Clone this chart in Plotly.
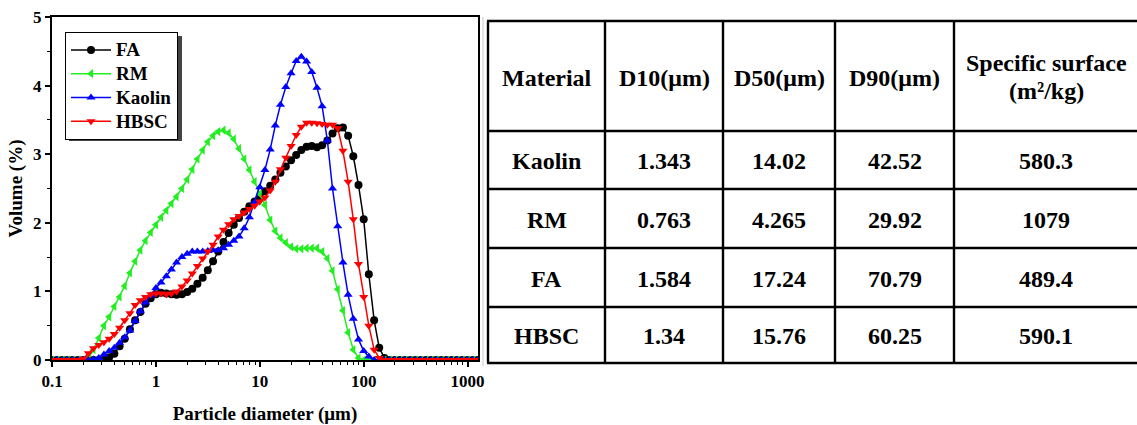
import plotly.graph_objects as go

# ---------------- data ----------------
diameters = [0.1, 0.112, 0.126, 0.141, 0.158, 0.178, 0.2, 0.224, 0.251, 0.282,
             0.316, 0.355, 0.398, 0.447, 0.501, 0.562, 0.631, 0.708, 0.794, 0.891,
             1, 1.12, 1.26, 1.41, 1.58, 1.78, 2, 2.24, 2.51, 2.82,
             3.16, 3.55, 3.98, 4.47, 5.01, 5.62, 6.31, 7.08, 7.94, 8.91,
             10, 11.2, 12.6, 14.1, 15.8, 17.8, 20, 22.4, 25.1, 28.2,
             31.6, 35.5, 39.8, 44.7, 50.1, 56.2, 63.1, 70.8, 79.4, 89.1,
             100, 112, 126, 141, 158, 178, 200, 224, 251, 282,
             316, 355, 398, 447, 501, 562, 631, 708, 794, 891,
             1000, 1122, 1259]

fa = [0, 0, 0, 0, 0, 0, 0, 0, 0, 0,
      0.01, 0.04, 0.09, 0.2, 0.31, 0.45, 0.58, 0.70, 0.82, 0.9,
      0.96, 0.98, 0.97, 0.96, 0.95, 0.96, 0.99, 1.04, 1.11, 1.2,
      1.31, 1.44, 1.58, 1.72, 1.85, 1.97, 2.07, 2.16, 2.24, 2.31,
      2.38, 2.46, 2.54, 2.63, 2.73, 2.82, 2.91, 2.99, 3.06, 3.11,
      3.12, 3.1, 3.13, 3.2, 3.3, 3.38, 3.39, 3.27, 2.97, 2.55,
      2.05, 1.25, 0.58, 0.18, 0.03, 0, 0, 0, 0, 0,
      0, 0, 0, 0, 0, 0, 0, 0, 0, 0,
      0, 0, 0]

rm = [0, 0, 0, 0, 0, 0, 0, 0.02, 0.15, 0.32,
      0.5, 0.63, 0.78, 0.92, 1.08, 1.27, 1.44, 1.6, 1.74, 1.86,
      1.97, 2.08, 2.18, 2.28, 2.38, 2.5, 2.63, 2.78, 2.93, 3.06,
      3.18, 3.27, 3.33, 3.35, 3.31, 3.22, 3.08, 2.93, 2.77, 2.6,
      2.42, 2.26, 2.04, 1.88, 1.78, 1.71, 1.65, 1.62, 1.62, 1.63,
      1.63, 1.63, 1.58, 1.48, 1.3, 1.03, 0.72, 0.4, 0.15, 0.03,
      0, 0, 0, 0, 0, 0, 0, 0, 0, 0,
      0, 0, 0, 0, 0, 0, 0, 0, 0, 0,
      0, 0, 0]

kaolin = [0, 0, 0, 0, 0, 0, 0, 0, 0.01, 0.03,
          0.08, 0.13, 0.18, 0.25, 0.33, 0.43, 0.57, 0.71, 0.84, 0.94,
          1.05, 1.13, 1.22, 1.32, 1.42, 1.5, 1.55, 1.58, 1.58, 1.58,
          1.59, 1.6, 1.6, 1.63, 1.68, 1.74, 1.8, 1.92, 2.08, 2.3,
          2.52, 2.77, 3.07, 3.42, 3.72, 3.98, 4.18, 4.36, 4.42, 4.35,
          4.2, 3.97, 3.7, 3.2, 2.5, 1.95, 1.42, 0.95, 0.6, 0.3,
          0.13, 0.05, 0, 0, 0, 0, 0, 0, 0, 0,
          0, 0, 0, 0, 0, 0, 0, 0, 0, 0,
          0, 0, 0]

hbsc = [0, 0, 0, 0, 0, 0, 0.02, 0.1, 0.17, 0.22,
        0.26, 0.31, 0.38, 0.47, 0.58, 0.68, 0.8, 0.87, 0.92, 0.96,
        0.97, 0.97, 0.96, 0.97, 1.0, 1.07, 1.16, 1.26, 1.37, 1.48,
        1.58, 1.68, 1.8, 1.9, 1.98, 2.05, 2.1, 2.15, 2.2, 2.25,
        2.31, 2.37, 2.47, 2.6, 2.78, 2.95, 3.12, 3.28, 3.4, 3.46,
        3.46, 3.45, 3.44, 3.43, 3.43, 3.38, 3.05, 2.6, 2.05, 1.4,
        0.92, 0.5, 0.15, 0.03, 0, 0, 0, 0, 0, 0,
        0, 0, 0, 0, 0, 0, 0, 0, 0, 0,
        0, 0, 0]

x_tickvals = [0.1, 1, 10, 100, 1000]
x_ticktext = ["0.1", "1", "10", "100", "1000"]

table_header = ["Material", "D10(μm)", "D50(μm)", "D90(μm)", ["Specific surface", "(m²/kg)"]]
materials = ["Kaolin", "RM", "FA", "HBSC"]
d10 = ["1.343", "0.763", "1.584", "1.34"]
d50 = ["14.02", "4.265", "17.24", "15.76"]
d90 = ["42.52", "29.92", "70.79", "60.25"]
specific_surface = ["580.3", "1079", "489.4", "590.1"]

# ---------------- figure ----------------
W, H = 1137, 425
FONT = "Liberation Serif"


def px(x):
    return x / W


def py(y):
    return 1 - y / H


fig = go.Figure()
series = [
    ("FA", fa, "#000000", "circle", 8),
    ("RM", rm, "#22EE22", "triangle-left", 8),
    ("Kaolin", kaolin, "#0000FF", "triangle-up", 8),
    ("HBSC", hbsc, "#FF0000", "triangle-down", 8),
]
for name, vals, col, sym, sz in series:
    fig.add_trace(go.Scatter(
        x=diameters, y=vals, name='<span style="font-size:19px">%s</span>' % name,
        mode="lines+markers",
        line=dict(color=col, width=1.5),
        marker=dict(symbol=sym, size=sz, color=col, line=dict(width=0)),
    ))

tick_font = dict(family=FONT, size=17, color="black", weight="bold")
title_font = dict(family=FONT, size=19, color="black", weight="bold")

fig.update_layout(
    width=W, height=H, autosize=False,
    margin=dict(l=0, r=0, t=0, b=0),
    paper_bgcolor="white", plot_bgcolor="rgba(0,0,0,0)",
    template="none",
    showlegend=True,
    xaxis=dict(
        type="log", range=[-1, 3.1], domain=[px(52), px(478)],
        tickvals=x_tickvals, ticktext=x_ticktext,
        tickfont=tick_font, ticks="outside", ticklen=5, tickwidth=1.5, tickcolor="black",
        showline=True, linecolor="black", linewidth=2, mirror=True,
        showgrid=False, zeroline=False, automargin=False,
        minor=dict(ticks="outside", ticklen=3, tickwidth=1, tickcolor="black", dtick="D1", showgrid=False),
        title=dict(text="Particle diameter (μm)", font=title_font, standoff=16),
    ),
    yaxis=dict(
        range=[0, 5], domain=[py(360), py(17)],
        dtick=1, tickfont=tick_font, ticks="outside", ticklen=5, tickwidth=1.5, tickcolor="black",
        showline=True, linecolor="black", linewidth=2, mirror=True,
        showgrid=False, zeroline=False, automargin=False,
        minor=dict(ticks="outside", ticklen=3, tickwidth=1, tickcolor="black", dtick=0.5, showgrid=False),
        title=dict(text="Volume (%)", font=title_font, standoff=5),
    ),
    legend=dict(
        x=px(65), y=py(32), xanchor="left", yanchor="top",
        bgcolor="white", bordercolor="black", borderwidth=1,
        font=dict(family=FONT, size=16, color="black", weight="bold"),
        tracegroupgap=0, itemwidth=40,
    ),
)

shapes = []
# legend shadow
shapes.append(dict(type="rect", xref="paper", yref="paper",
                   x0=px(69), x1=px(182), y0=py(141), y1=py(36),
                   fillcolor="#444444", line=dict(width=0), layer="below"))
# faint separator line between panels
shapes.append(dict(type="line", xref="paper", yref="paper",
                   x0=px(483), x1=px(483), y0=py(17), y1=py(366),
                   line=dict(color="#c8c8c8", width=1)))

# table grid
col_edges = [488, 605, 723, 835, 954, 1137]
row_edges = [21, 131, 189, 248, 307, 363]
for ry in row_edges:
    shapes.append(dict(type="line", xref="paper", yref="paper",
                       x0=px(col_edges[0] - 1), x1=px(col_edges[-1]), y0=py(ry), y1=py(ry),
                       line=dict(color="black", width=2.4)))
for cx in col_edges[:-1]:
    shapes.append(dict(type="line", xref="paper", yref="paper",
                       x0=px(cx), x1=px(cx), y0=py(row_edges[0]), y1=py(row_edges[-1]),
                       line=dict(color="black", width=2.4)))
fig.update_layout(shapes=shapes)

table_font = dict(family=FONT, size=24, color="black", weight="bold")
annotations = []
columns = [materials, d10, d50, d90, specific_surface]
for ci in range(5):
    cxm = (col_edges[ci] + col_edges[ci + 1]) / 2
    head = table_header[ci]
    if isinstance(head, list):
        for k, line_txt in enumerate(head):
            annotations.append(dict(x=px(cxm + 1), y=py(63 + 28 * k), xref="paper", yref="paper",
                                    text=line_txt, showarrow=False, font=table_font,
                                    xanchor="center", yanchor="middle"))
    else:
        hy = (row_edges[0] + row_edges[1]) / 2 + 2
        annotations.append(dict(x=px(cxm), y=py(hy), xref="paper", yref="paper",
                                text=head, showarrow=False, font=table_font,
                                xanchor="center", yanchor="middle"))
    for ri, val in enumerate(columns[ci]):
        ry = (row_edges[ri + 1] + row_edges[ri + 2]) / 2 + 1
        annotations.append(dict(x=px(cxm), y=py(ry), xref="paper", yref="paper",
                                text=val, showarrow=False, font=table_font,
                                xanchor="center", yanchor="middle"))
fig.update_layout(annotations=annotations)

fig.write_html("out.html")
